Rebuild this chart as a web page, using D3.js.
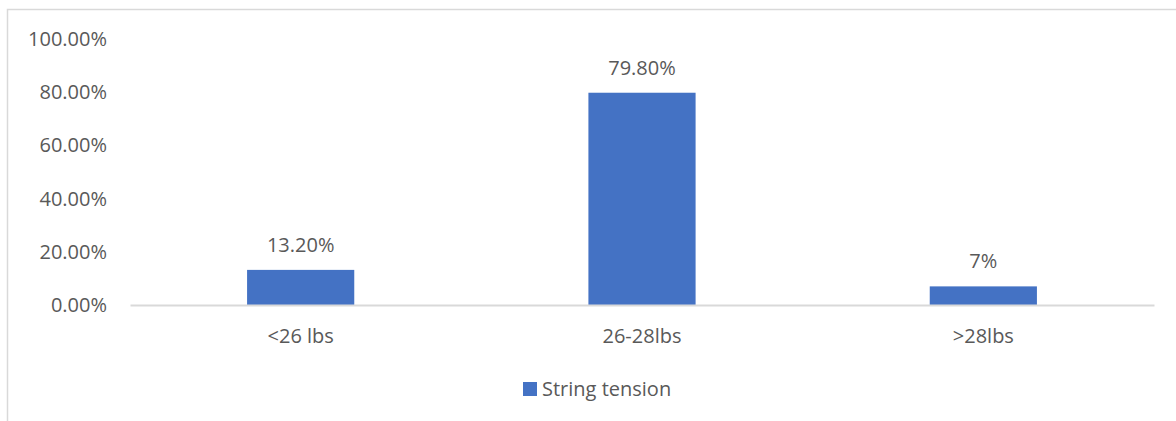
<!DOCTYPE html>
<html lang="en">
<head>
    <meta charset="UTF-8">
    <title>String tension</title>
    <script src="https://d3js.org/d3.v7.min.js"></script>
    <style>
        html, body {
            margin: 0;
            background: white;
        }
        text {
            font-family: "Open Sans", sans-serif;
            fill: #595959;
        }
    </style>
</head>
<body>
    <div id="chart"></div>
    <script>
        // data
        var categories = ['<26 lbs', '26-28lbs', '>28lbs'];
        var values = [0.132, 0.798, 0.07];
        var valueLabels = ['13.20%', '79.80%', '7%'];
        var yTicks = [0, 0.2, 0.4, 0.6, 0.8, 1.0];
        var seriesName = 'String tension';

        var width = 1176;
        var height = 421;

        var margin = {top: 39, bottom: 116, left: 130, right: 22};

        var svg = d3.select('#chart')
            .append('svg')
                .attr('width', width)
                .attr('height', height);

        // outer chart border (runs off the right / bottom edge)
        svg.append('rect')
            .attr('x', 7.5)
            .attr('y', 9.5)
            .attr('width', width + 20)
            .attr('height', height + 20)
            .attr('fill', 'white')
            .attr('stroke', '#d9d9d9')
            .attr('stroke-width', 1.5);

        var g = svg.append('g')
            .attr('transform', 'translate(' + margin.left + ',' + margin.top + ')');

        var w = width - margin.left - margin.right;
        var h = 305 - margin.top;

        var x = d3.scaleBand()
            .domain(categories)
            .range([0, w])
            .paddingInner(0.686)
            .paddingOuter(0.343);

        var y = d3.scaleLinear()
            .domain([0, 1])
            .range([h, 0]);

        // y axis labels (no line, no gridlines)
        var yAxis = d3.axisLeft(y)
            .tickValues(yTicks)
            .tickSize(0)
            .tickPadding(23)
            .tickFormat(d3.format('.2%'));

        g.append('g')
            .attr('class', 'y axis')
            .call(yAxis)
            .call(function(s){ s.select('.domain').remove(); })
            .selectAll('text')
                .style('font-size', '20px')
                .attr('fill', '#595959');

        // bars
        g.selectAll('.bar')
            .data(values)
            .enter()
            .append('rect')
                .attr('class', 'bar')
                .attr('x', function(d, i){ return x(categories[i]); })
                .attr('y', function(d){ return y(d); })
                .attr('width', x.bandwidth())
                .attr('height', function(d){ return h - y(d); })
                .attr('fill', '#4472c4');

        // data labels
        g.selectAll('.vlabel')
            .data(values)
            .enter()
            .append('text')
                .attr('class', 'vlabel')
                .attr('x', function(d, i){ return x(categories[i]) + x.bandwidth() / 2; })
                .attr('y', function(d){ return y(d) - 18; })
                .attr('text-anchor', 'middle')
                .style('font-size', '20px')
                .text(function(d, i){ return valueLabels[i]; });

        // x axis
        var xAxis = d3.axisBottom(x)
            .tickSize(0)
            .tickPadding(24);

        g.append('g')
            .attr('class', 'x axis')
            .attr('transform', 'translate(0,' + h + ')')
            .call(xAxis)
            .call(function(s){
                s.select('.domain')
                    .attr('stroke', '#d9d9d9')
                    .attr('stroke-width', 2);
            })
            .selectAll('text')
                .style('font-size', '20px')
                .attr('fill', '#595959');

        // legend
        var legend = svg.append('g')
            .attr('transform', 'translate(523,382)');

        legend.append('rect')
            .attr('width', 14)
            .attr('height', 14)
            .attr('fill', '#4472c4');

        legend.append('text')
            .attr('x', 19)
            .attr('y', 14)
            .style('font-size', '20px')
            .text(seriesName);
    </script>
</body>
</html>
